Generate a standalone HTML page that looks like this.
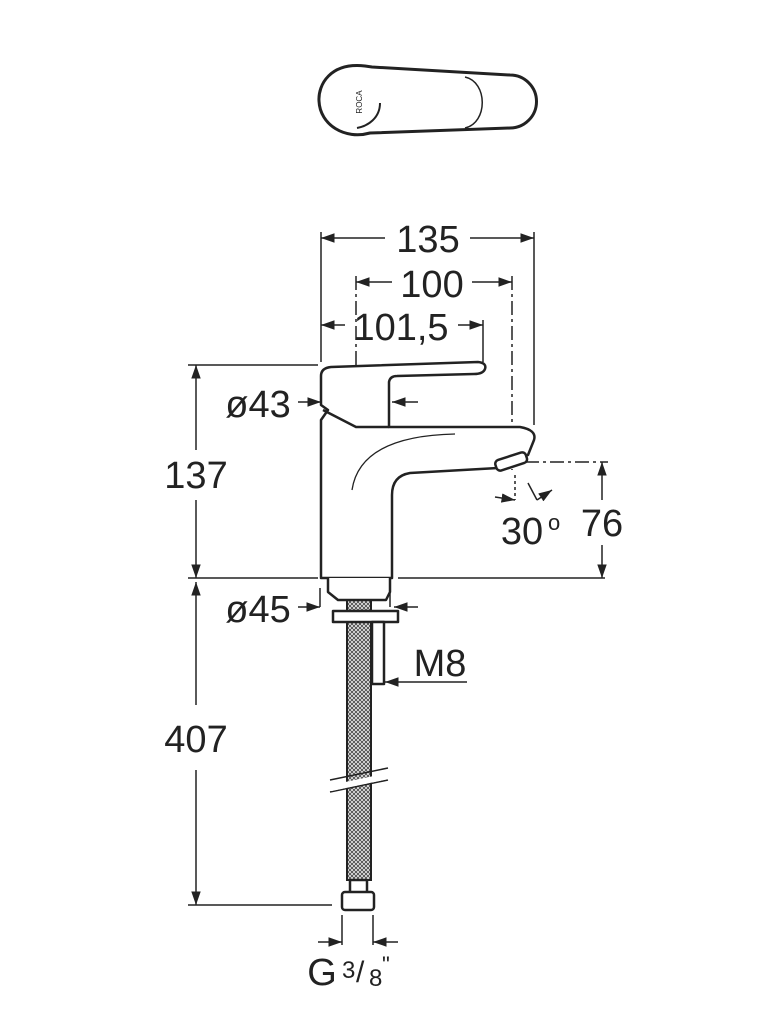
<!DOCTYPE html>
<html><head><meta charset="utf-8"><style>html,body{margin:0;padding:0;background:#fff}svg{display:block}text{font-family:"Liberation Sans",sans-serif;fill:#222}</style></head><body>
<svg width="775" height="1027" viewBox="0 0 775 1027" xmlns="http://www.w3.org/2000/svg">
<defs>
<marker id="a" viewBox="0 0 10 10" refX="10" refY="5" markerWidth="9" markerHeight="9" orient="auto-start-reverse"><path d="M0,1.5 L10,5 L0,8.5 Z" fill="#222"/></marker>
<pattern id="h" width="4" height="4" patternUnits="userSpaceOnUse"><rect width="4" height="4" fill="#fff"/><path d="M0,0 L4,4 M4,0 L0,4" stroke="#555" stroke-width="1.1"/></pattern>
</defs>
<g fill="none" stroke="#222" stroke-width="3">
<path d="M365,66 C330,62 318,85 319,101 C320,125 345,140 370,133 L510,128 A26.5,26.5 0 0 0 510,75 L372,67 Z"/>
<path d="M465,77 C488,82 488,123 465,128" stroke-width="1.5"/>
<path d="M380,103 C380,118 368,126 357,128" stroke-width="2"/>
</g>
<text x="362" y="102" font-size="8" transform="rotate(-90 362 102)" text-anchor="middle">ROCA</text>
<g fill="none" stroke="#222" stroke-width="1.5">
<line x1="321" y1="232" x2="321" y2="362"/>
<line x1="534" y1="232" x2="534" y2="425"/>
<line x1="356" y1="276" x2="356" y2="580" stroke-dasharray="14,4,3,4"/>
<line x1="512" y1="276" x2="512" y2="470" stroke-dasharray="14,4,3,4"/>
<line x1="483" y1="320" x2="483" y2="362"/>
<line x1="321" y1="238" x2="385" y2="238" marker-start="url(#a)"/><line x1="470" y1="238" x2="534" y2="238" marker-end="url(#a)"/>
<line x1="356" y1="282" x2="392" y2="282" marker-start="url(#a)"/><line x1="472" y1="282" x2="512" y2="282" marker-end="url(#a)"/>
<line x1="321" y1="325" x2="345" y2="325" marker-start="url(#a)"/><line x1="458" y1="325" x2="483" y2="325" marker-end="url(#a)"/>
<line x1="188" y1="365" x2="318" y2="365"/>
<line x1="196" y1="365" x2="196" y2="450" marker-start="url(#a)"/><line x1="196" y1="500" x2="196" y2="578" marker-end="url(#a)"/>
<line x1="188" y1="578" x2="318" y2="578"/><line x1="398" y1="578" x2="605" y2="578"/>
<line x1="298" y1="402" x2="321" y2="402" marker-end="url(#a)"/>
<line x1="418" y1="402" x2="392" y2="402" marker-end="url(#a)"/>
<line x1="525" y1="462" x2="608" y2="462" stroke-dasharray="14,4,3,4"/>
<line x1="602" y1="462" x2="602" y2="500" marker-start="url(#a)"/><line x1="602" y1="545" x2="602" y2="578" marker-end="url(#a)"/>
<line x1="515" y1="475" x2="515" y2="500" stroke-dasharray="3,3"/>
<line x1="495" y1="497" x2="515" y2="500" marker-end="url(#a)"/>
<line x1="528" y1="483" x2="537" y2="500"/><line x1="537" y1="500" x2="552" y2="490" marker-end="url(#a)"/>
<line x1="298" y1="607" x2="320" y2="607" marker-end="url(#a)"/>
<line x1="418" y1="607" x2="394" y2="607" marker-end="url(#a)"/>
<line x1="320" y1="588" x2="320" y2="607"/><line x1="390" y1="592" x2="390" y2="607"/>
<line x1="467" y1="682" x2="385" y2="682" marker-end="url(#a)"/>
<line x1="196" y1="582" x2="196" y2="705" marker-start="url(#a)"/><line x1="196" y1="770" x2="196" y2="905" marker-end="url(#a)"/>
<line x1="188" y1="905" x2="332" y2="905"/>
<line x1="342" y1="915" x2="342" y2="945"/><line x1="373" y1="915" x2="373" y2="945"/>
<line x1="318" y1="942" x2="342" y2="942" marker-end="url(#a)"/><line x1="398" y1="942" x2="373" y2="942" marker-end="url(#a)"/>
</g>
<rect x="347" y="598" width="24" height="282" fill="url(#h)" stroke="#222" stroke-width="2"/>
<path d="M330,780 L388,768 M330,792 L388,780" stroke="#222" stroke-width="1.5"/>
<rect x="330" y="779" width="60" height="6" fill="#fff" transform="rotate(-12 360 782)"/>
<g fill="#fff" stroke="#222" stroke-width="2.5" stroke-linejoin="round">
<path d="M321,420 L328,410 L321,405 L321,376 Q321,368 331,367 L478,362 Q487,363 485,369 Q483,374 474,374 L397,376 Q390,376 389,382 L389,427 L520,427 Q537,430 534,440 L528,455 L498,468 L410,473 Q392,476 392,495 L392,578 L321,578 Z"/>
<path d="M323,410 L356,427 L389,427" fill="none"/>
<path d="M455,434 Q360,436 352,490" fill="none" stroke-width="1.3"/>
<rect x="495" y="456" width="32" height="11" rx="4" transform="rotate(-18 511 461)"/>
<path d="M328,578 L328,592 L338,600 L386,600 L390,592 L390,578" />
<rect x="333" y="611" width="65" height="11"/>
<rect x="372" y="622" width="12" height="62"/>
<rect x="350" y="880" width="17" height="14"/>
<rect x="342" y="892" width="32" height="18" rx="3"/>
</g>
<g font-size="38" text-anchor="middle">
<rect x="385" y="220" width="85" height="36" fill="#fff"/>
<text x="428" y="252">135</text>
<text x="432" y="297">100</text>
<text x="401" y="340">101,5</text>
<text x="258" y="417">ø43</text>
<text x="196" y="488">137</text>
<text x="602" y="536">76</text>
<text x="522" y="544">30</text>
<text x="258" y="622">ø45</text>
<text x="440" y="676">M8</text>
<text x="196" y="752">407</text>
<text x="322" y="985">G</text>
</g>
<text x="548" y="530" font-size="22">o</text>
<text x="342" y="978" font-size="24">3</text><text x="356" y="982" font-size="30">/</text><text x="369" y="986" font-size="24">8</text><text x="382" y="972" font-size="22">"</text>
</svg>
</body></html>
